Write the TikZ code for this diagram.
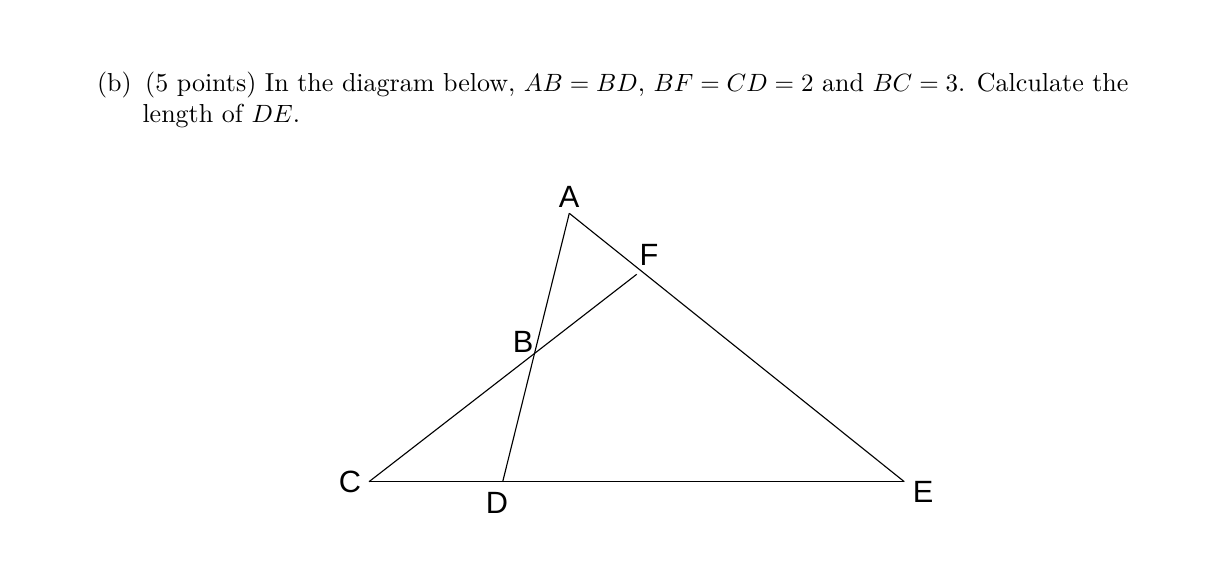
\documentclass[tikz,border=0pt]{standalone}
\usepackage{fontspec}
\newfontfamily\labelfont{Liberation Sans}
\usetikzlibrary{calc}
\begin{document}
\begin{tikzpicture}[x=0.4pt,y=-0.4pt,
  seg/.style={line width=0.45pt,black},
  ptlabel/.style={font=\labelfont\fontsize{12.3}{14}\selectfont,inner sep=0pt},
  textline/.style={anchor=base west,inner sep=0pt,font=\fontsize{10.4}{12}\selectfont}]
\useasboundingbox (0,0) rectangle (1212,586);
% text
\node[textline] (line1) at (96.5,92) {\makebox[412.6pt][s]{(b)\hspace{5.4pt}(5 points) In the diagram below, $AB=BD$, $BF=CD=2$ and $BC=3$. Calculate the}};
\node[textline] (line2) at (142,122.5) {length of $DE$.};
% points
\coordinate (A) at (569.3,213.3);
\coordinate (D) at (502.7,481.7);
\coordinate (C) at (369,481.7);
\coordinate (E) at (904.3,481.7);
\coordinate (Fe) at (636.7,274.3);
\coordinate (B) at (intersection of A--D and C--Fe);
% segments
\draw[seg] (A) -- (D);
\draw[seg] (A) -- (E);
\draw[seg] (C) -- (E);
\draw[seg] (C) -- (Fe);
% labels
\node[ptlabel] (lA) at (569,197) {A};
\node[ptlabel] (lF) at (649,255) {F};
\node[ptlabel] (lB) at (523,342) {B};
\node[ptlabel] (lC) at (350,482) {C};
\node[ptlabel] (lD) at (497,503) {D};
\node[ptlabel] (lE) at (923,492) {E};
\end{tikzpicture}
\end{document}
